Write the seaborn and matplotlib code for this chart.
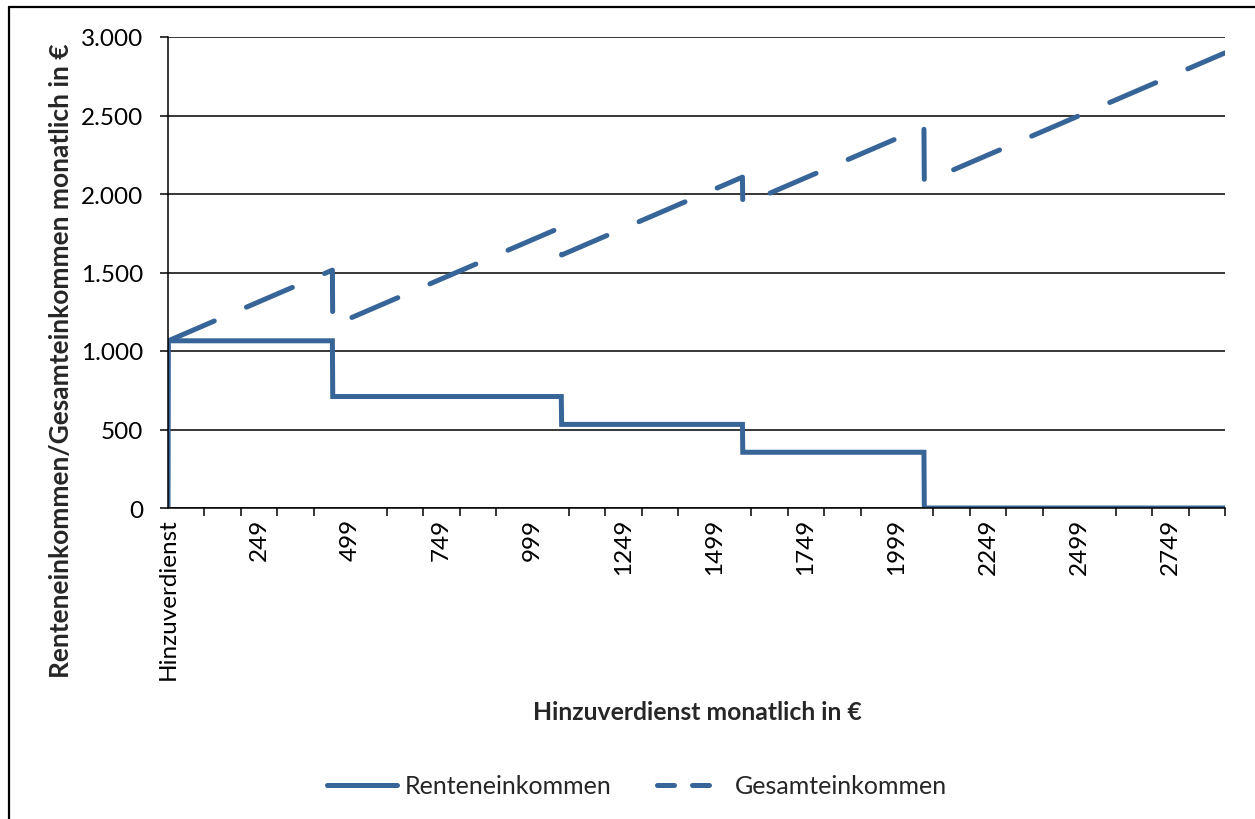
import numpy as np
import pandas as pd
import seaborn as sns
import matplotlib.pyplot as plt
from matplotlib.lines import Line2D
from matplotlib.ticker import FixedLocator, MultipleLocator, FixedFormatter, FuncFormatter

# Knickpunkte des monatlichen Hinzuverdienstes (in €) und die zugehörigen Einkommen
hinzuverdienst_knoten = [0, 450, 451, 1078, 1079, 1575, 1576, 2073, 2074, 2899]
renteneinkommen = [1065, 1065, 710, 710, 532.5, 532.5, 355, 355, 0, 0]
gesamteinkommen = [1065, 1515, 1161, 1788, 1611.5, 2107.5, 1931, 2428, 2074, 2899]

# Kategorie 0 ist die Kopfzeile "Hinzuverdienst" (Rente dort 0)
kopf_rente = 0

x_tick_labels = ["Hinzuverdienst", "249", "499", "749", "999", "1249",
                 "1499", "1749", "1999", "2249", "2499", "2749"]
y_ticks = [0, 500, 1000, 1500, 2000, 2500, 3000]

BLUE = "#386597"
W, H = 1255, 820

sns.set_theme(style="white")
plt.rcParams["font.family"] = ["Lato", "DejaVu Sans"]

fig = plt.figure(figsize=(W / 100, H / 100), dpi=100)
ax = fig.add_axes([168 / W, 1 - 509 / H, (1225 - 168) / W, (509 - 38) / H])

pos = np.asarray(hinzuverdienst_knoten) + 1
rente_df = pd.DataFrame({"x": np.concatenate([[0], pos]),
                         "y": [kopf_rente] + renteneinkommen})
gesamt_df = pd.DataFrame({"x": pos, "y": gesamteinkommen})

lw = 3.6
sns.lineplot(data=rente_df, x="x", y="y", ax=ax, color=BLUE, lw=lw,
             sort=False, estimator=None, legend=False)
sns.lineplot(data=gesamt_df, x="x", y="y", ax=ax, color=BLUE, lw=lw,
             sort=False, estimator=None, legend=False)
ax.lines[0].set_solid_joinstyle("miter")
ax.lines[1].set_linestyle((0, (10, 7)))
ax.lines[1].set_dash_capstyle("round")

ax.set_xlim(0, 2900)
ax.set_ylim(0, 3000)

# Achsen und Gitter
for side in ["top", "right"]:
    ax.spines[side].set_visible(False)
for side in ["left", "bottom"]:
    ax.spines[side].set_color("black")
    ax.spines[side].set_linewidth(1.1)

TICK_FS = 17.5
ax.yaxis.set_major_locator(FixedLocator(y_ticks))
ax.yaxis.set_major_formatter(FuncFormatter(lambda v, p: f"{int(v):,}".replace(",", ".")))
ax.yaxis.grid(True, color="black", lw=1.1)
ax.set_axisbelow(True)
ax.tick_params(axis="y", which="major", left=True, length=6, width=1.1,
               color="black", labelsize=TICK_FS, pad=12, labelcolor="black")

ax.xaxis.set_major_locator(FixedLocator(np.arange(0, 2751, 250)))
ax.xaxis.set_major_formatter(FixedFormatter(x_tick_labels))
ax.xaxis.set_minor_locator(MultipleLocator(100))
ax.tick_params(axis="x", which="major", bottom=True, length=0, labelsize=TICK_FS,
               labelrotation=90, pad=7, labelcolor="black")
ax.tick_params(axis="x", which="minor", bottom=True, length=6, width=1.1, color="black")
ax.set_xlabel("")
ax.set_ylabel("")

fig.text(697 / W, 1 - 713 / H, "Hinzuverdienst monatlich in €",
         ha="center", va="center", fontsize=17.8, fontweight="bold")
fig.text(61 / W, 1 - 361 / H, "Renteneinkommen/Gesamteinkommen monatlich in €",
         ha="center", va="center", rotation=90, fontsize=19, fontweight="bold")

# Legende
handles = [Line2D([], [], color=BLUE, lw=lw),
           Line2D([], [], color=BLUE, lw=lw, linestyle=(0, (3.4, 3.6)),
                  dash_capstyle="round")]
fig.legend(handles, ["Renteneinkommen", "Gesamteinkommen"], loc="center",
           bbox_to_anchor=(637 / W, 1 - 787 / H), ncol=2, frameon=False,
           fontsize=18, handlelength=2.8, handletextpad=0.3, columnspacing=1.85)

# Rahmen des Diagrammbereichs
fig.add_artist(Line2D([9 / W, 9 / W], [0, 1 - 8 / H], transform=fig.transFigure,
                      color="black", lw=1.6))
fig.add_artist(Line2D([9 / W, 1.0], [1 - 8 / H, 1 - 8 / H], transform=fig.transFigure,
                      color="black", lw=1.6))

fig.savefig("out.png", dpi=100, facecolor="white")
